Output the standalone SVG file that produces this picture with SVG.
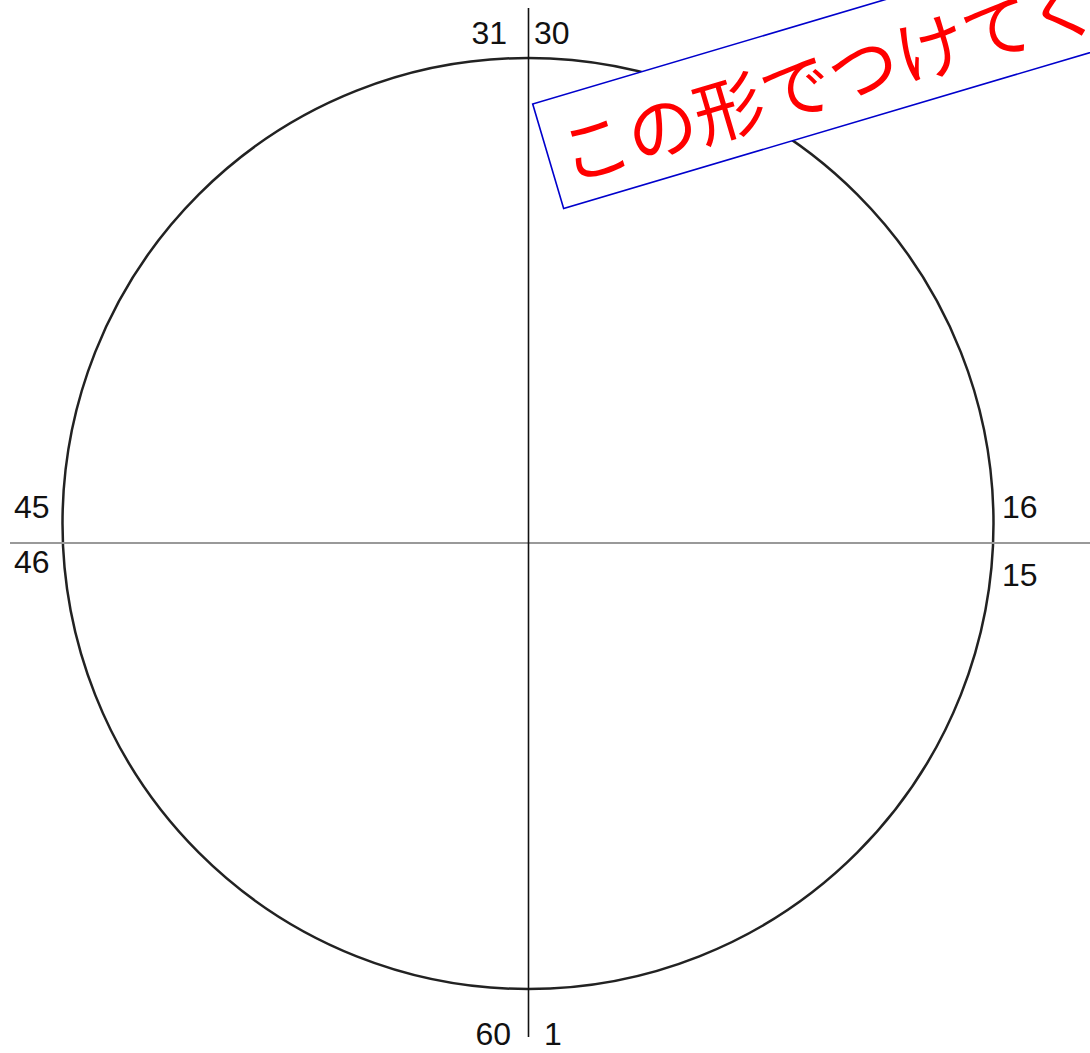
<svg xmlns="http://www.w3.org/2000/svg" width="1090" height="1053" viewBox="0 0 1090 1053">
<style>
.lbl{font-family:"Liberation Sans",Arial,sans-serif;font-size:32px;fill:#111}
.note{font-family:"Noto Sans CJK JP","Noto Sans",sans-serif;font-size:70px;font-weight:400;fill:#ff0000}
</style>
<rect width="1090" height="1053" fill="#fff"/>
<g id="circle"><circle cx="528" cy="523.5" r="465.5" fill="none" stroke="#222" stroke-width="2.5"/></g>
<g id="connectors">
<line x1="10" y1="543" x2="1090" y2="543" stroke="#999" stroke-width="2"/>
<line x1="528.5" y1="8" x2="528.5" y2="1037" stroke="#111" stroke-width="1.6"/>
</g>
<g id="labels">
<text class="lbl" x="507" y="44" text-anchor="end">31</text>
<text class="lbl" x="534" y="44">30</text>
<text class="lbl" x="14" y="518">45</text>
<text class="lbl" x="14" y="573">46</text>
<text class="lbl" x="1002" y="518">16</text>
<text class="lbl" x="1002" y="586">15</text>
<text class="lbl" x="511" y="1045" text-anchor="end">60</text>
<text class="lbl" x="544" y="1045">1</text>
</g>
<g id="note" transform="translate(532.7,104) rotate(-16.5)">
<rect x="0" y="0" width="760" height="109" fill="#fff" stroke="#0000cc" stroke-width="1.6"/>
<text class="note" x="12" y="86">この形でつけてく</text>
</g>
</svg>
